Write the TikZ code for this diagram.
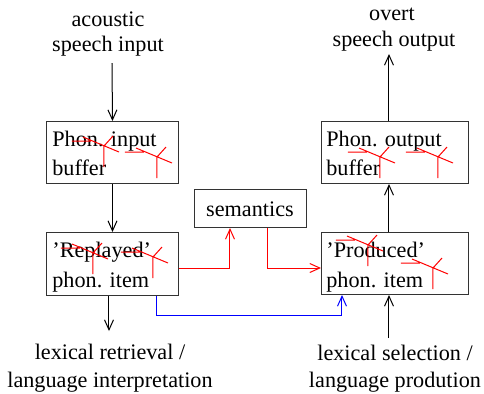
\documentclass[tikz,border=0pt]{standalone}
\usepackage{fontspec}
\setmainfont{Liberation Serif}
\usetikzlibrary{arrows.meta}
\tikzset{
  box/.style={draw=black!80, line width=0.5pt, anchor=north west, inner sep=0pt},
  txt/.style={inner sep=0pt, font=\fontsize{11.1}{14}\selectfont},
  arr/.style={line width=0.5pt, -{Straight Barb[length=5pt,width=4.5pt]}},
  redarr/.style={arr, red},
  bluearr/.style={arr, blue},
  cross mark/.pic={
    \draw[red, line width=0.5pt] (-32,-5) -- (-13,-5) (-21,-9) -- (15,6)
      (0,0) -- (0,21) (0,0) -- (9,-10);
  }
}
\begin{document}
\begin{tikzpicture}[x=0.5pt,y=-0.5pt]
\useasboundingbox (0,0) rectangle (484,393);

% boxes
\node[box, minimum width=66pt, minimum height=31pt] (inbuf) at (46,121) {};
\node[box, minimum width=66pt, minimum height=31.5pt] (replayed) at (46,232) {};
\node[box, minimum width=73.5pt, minimum height=31pt] (outbuf) at (321,121) {};
\node[box, minimum width=73.5pt, minimum height=31pt] (produced) at (321,232) {};
\node[box, minimum width=56pt, minimum height=19pt] (semantics) at (194,189) {};

% box texts
\node[txt, anchor=base west] (t1) at (52,146) {Phon. input};
\node[txt, anchor=base west] (t2) at (52,175) {buffer};
\node[txt, anchor=base west] (t3) at (52,257) {'Replayed'};
\node[txt, anchor=base west] (t4) at (52,287) {phon. item};
\node[txt, anchor=base west] (t5) at (326,146) {Phon. output};
\node[txt, anchor=base west] (t6) at (326,175) {buffer};
\node[txt, anchor=base west] (t7) at (326,257) {'Produced'};
\node[txt, anchor=base west] (t8) at (326,287) {phon. item};
\node[txt, anchor=base] (t9) at (250,216) {semantics};

% outer labels
\node[txt, anchor=base] (in1) at (108,26) {acoustic};
\node[txt, anchor=base] (in2) at (108,51) {speech input};
\node[txt, anchor=base] (out1) at (392,20) {overt};
\node[txt, anchor=base] (out2) at (394,46) {speech output};
\node[txt, anchor=base] (ret1) at (110,359) {lexical retrieval /};
\node[txt, anchor=base] (ret2) at (110,387) {language interpretation};
\node[txt, anchor=base] (sel1) at (395,360) {lexical selection /};
\node[txt, anchor=base] (sel2) at (395,387) {language prodution};

% red marks over the box texts
\pic at (104,146) {cross mark};
\pic at (157,157) {cross mark};
\pic at (380,157) {cross mark};
\pic at (438,157) {cross mark};
\pic at (93,253) {cross mark};
\pic at (153,257) {cross mark};
\pic at (368,245) {cross mark};
\pic at (433,268) {cross mark};

% helper points
\coordinate (lx) at (109,0);
\coordinate (rx) at (389,0);
\coordinate (r1) at (230,268);
\coordinate (r2) at (268,268);
\coordinate (b1) at (157,315);
\coordinate (b2) at (342,315);
\coordinate (lowL) at (109,331);
\coordinate (lowR) at (389,338);
\coordinate (topL) at (112,63);
\coordinate (topR) at (389,54);

% black connectors
\draw[arr] (topL) -- (inbuf.north);
\draw[arr] (inbuf.south) -- (replayed.north);
\draw[arr] (replayed.south -| lx) -- (lowL);
\draw[arr] (lowR) -- (produced.south -| rx);
\draw[arr] (produced.north -| rx) -- (outbuf.south -| rx);
\draw[arr] (outbuf.north -| rx) -- (topR);

% red connectors through semantics
\draw[redarr] (replayed.east |- r1) -| (r1 |- semantics.south);
\draw[redarr] (r2 |- semantics.south) |- (produced.west |- r2);

% blue direct route
\draw[bluearr] (replayed.south -| b1) -- (b1) -- (b2) -- (produced.south -| b2);
\end{tikzpicture}
\end{document}
